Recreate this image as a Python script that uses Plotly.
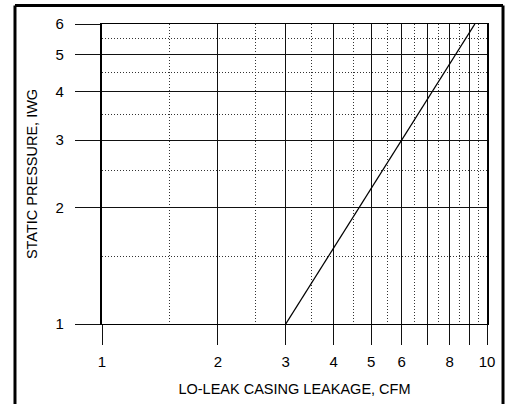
import plotly.graph_objects as go

# Data
leakage_cfm = [3.0, 6.0, 9.3]
static_pressure_iwg = [1.0, 3.0, 6.0]

x_tick_vals = [1, 2, 3, 4, 5, 6, 7, 8, 9, 10]
x_tick_text = ["1", "2", "3", "4", "5", "6", "", "8", "", "10"]
x_minor_vals = [1.5, 2.5, 3.5, 4.5, 5.5, 6.5, 7.5, 8.5, 9.5]
y_tick_vals = [1, 2, 3, 4, 5, 6]
y_tick_text = ["1", "2", "3", "4", "5", "6"]
y_minor_vals = [1.5, 2.5, 3.5, 4.5, 5.5]

FONT = "Liberation Sans, Arial, Helvetica, sans-serif"

fig = go.Figure()
fig.add_trace(go.Scatter(
    x=leakage_cfm, y=static_pressure_iwg, mode="lines",
    line=dict(color="black", width=1.3), showlegend=False, hoverinfo="skip",
))

axis_common = dict(
    type="log",
    automargin=False,
    showgrid=True, gridcolor="#111", gridwidth=1.4,
    zeroline=False,
    ticks="outside", tickcolor="#111", tickwidth=1.4,
    showline=True, linecolor="black", mirror=True,
    tickfont=dict(family=FONT, size=15, color="black"),
)
minor_common = dict(showgrid=True, gridcolor="#333", gridwidth=1,
                    griddash="1px,2px", ticks="")

fig.update_xaxes(
    **axis_common,
    linewidth=1.4,
    range=[0, 1],
    tickmode="array", tickvals=x_tick_vals, ticktext=x_tick_text,
    ticklen=20, ticklabelstandoff=4,
    minor=dict(tickvals=x_minor_vals, **minor_common),
    title=dict(text="LO-LEAK CASING LEAKAGE, CFM",
               font=dict(family=FONT, size=14.5, color="black"), standoff=14),
)
fig.update_yaxes(
    **axis_common,
    linewidth=2.2,
    range=[0, 0.77815],
    tickmode="array", tickvals=y_tick_vals, ticktext=y_tick_text,
    ticklen=25, ticklabelstandoff=8,
    minor=dict(tickvals=y_minor_vals, **minor_common),
    title=dict(text="STATIC PRESSURE, IWG",
               font=dict(family=FONT, size=14.5, color="black"), standoff=14),
)

# outer frame (paper coordinates)
frame_left, frame_right, frame_top, frame_bottom = -0.226, 1.0416, 1.062, -0.3
border = dict(color="black", width=3)
fig.update_layout(
    width=509, height=404,
    margin=dict(l=102, r=22, t=24, b=80),
    paper_bgcolor="white", plot_bgcolor="white",
    font=dict(family=FONT, size=14, color="black"),
    shapes=[
        dict(type="line", xref="paper", yref="paper", x0=frame_left, x1=frame_right,
             y0=frame_top, y1=frame_top, line=border, layer="above"),
        dict(type="line", xref="paper", yref="paper", x0=frame_left, x1=frame_left,
             y0=frame_bottom, y1=frame_top, line=border, layer="above"),
        dict(type="line", xref="paper", yref="paper", x0=frame_right, x1=frame_right,
             y0=frame_bottom, y1=frame_top, line=border, layer="above"),
    ],
)

fig.write_html(
    "out.html",
    config={"displayModeBar": False},
    post_script=(
        "document.body.style.margin='0';"
        "document.body.style.overflow='hidden';"
        "var gd=document.getElementById('{plot_id}');"
        "Plotly.relayout(gd, {}).then(function(){"
        "return Plotly.react(gd, gd.data, gd.layout);});"
    ),
)
